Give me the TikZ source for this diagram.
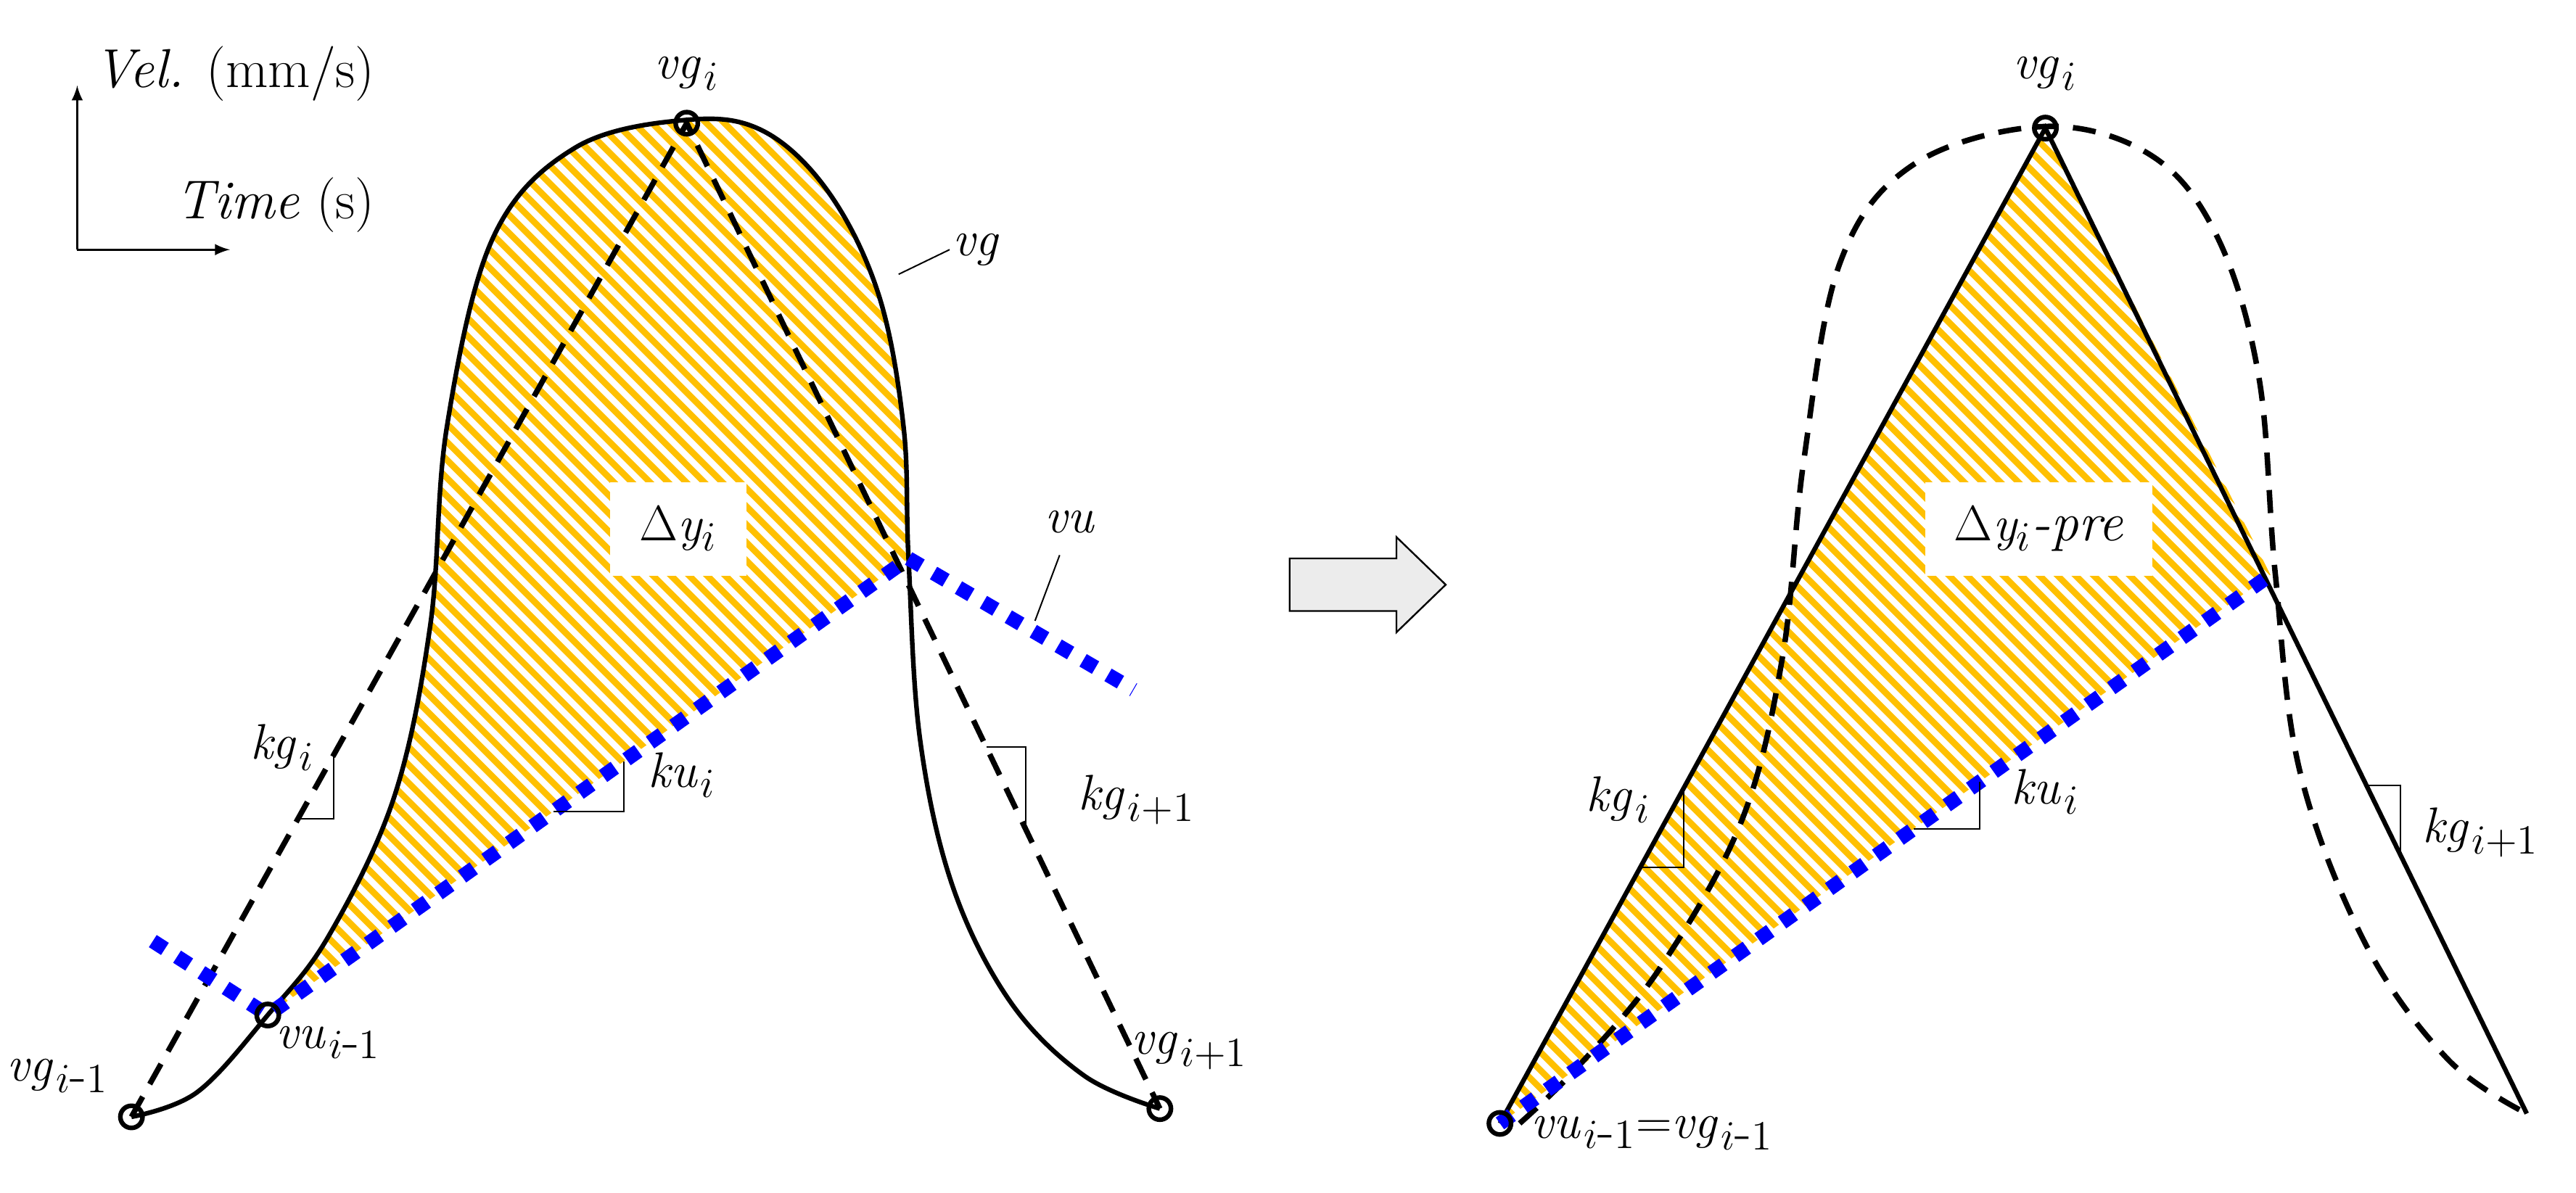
\documentclass[tikz,border=0pt]{standalone}
\usetikzlibrary{calc}
\definecolor{hatch}{HTML}{FFC000}
\newcommand{\mi}[2]{$\mathit{#1}_{#2}$}
\newcommand{\hy}{\mbox{-}}
\begin{document}
\begin{tikzpicture}[x=0.02cm,y=-0.02cm,
  curve/.style={line width=1.6pt,black},
  dsh/.style={line width=1.9pt,dash pattern=on 8pt off 5pt},
  blu/.style={line width=5pt,blue,dash pattern=on 5pt off 5pt},
  mk/.style={line width=0.5pt},
  pt/.style={circle,draw,line width=1.6pt,minimum size=0.27cm,inner sep=0pt},
  lbl/.style={font=\fontsize{19}{20}\selectfont,inner sep=1pt},
  txt/.style={font=\fontsize{19}{20}\selectfont,inner sep=1pt}]
\useasboundingbox (0,0) rectangle (1568,726);
% ---------- left ----------
\coordinate (A0) at (80,680);
\coordinate (vu) at (163,618);
\coordinate (T) at (418,75);
\coordinate (G1) at (706,675);
\coordinate (X) at (553,340);
\begin{scope}
\clip plot[smooth,tension=0.6] coordinates {(163,618) (200,570) (240,485) (262,380) (272,260) (300,145) (350,90) (418,73) (465,80) (505,118) (535,180) (550,260) (553,340)} -- cycle;
\foreach \k in {-800,-789,...,700} \draw[hatch,line width=2.2pt] (\k,0) -- ++(800,800);
\end{scope}
\draw[curve] plot[smooth,tension=0.6] coordinates {(80,680) (120,665) (163,618) (200,570) (240,485) (262,380) (272,260) (300,145) (350,90) (418,73) (465,80) (505,118) (535,180) (550,260) (553,340) (560,450) (580,540) (615,610) (660,655) (706,675)};
\draw[dsh] (A0) -- (T) -- (G1);
\draw[blu] (93,573) -- (vu) -- (X) -- (690,420);
\coordinate (p1) at ($(A0)!0.30!(T)$);  \coordinate (p1b) at ($(A0)!0.364!(T)$);
\coordinate (p2) at ($(vu)!0.446!(X)$); \coordinate (p2b) at ($(vu)!0.556!(X)$);
\coordinate (p3) at ($(T)!0.633!(G1)$); \coordinate (p3b) at ($(T)!0.717!(G1)$);
\draw[mk] (p1) -- (p1 -| p1b) -- (p1b);
\draw[mk] (p2) -- (p2 -| p2b) -- (p2b);
\draw[mk] (p3) -- (p3 -| p3b) -- (p3b);
\node[pt] (cA0) at (A0) {};
\node[pt] (cvu) at (vu) {};
\node[pt] (cT) at (T) {};
\node[pt] (cG1) at (G1) {};
% axes
\coordinate (O) at (47,152);
\draw[line width=0.8pt,-latex] (O) -- (47,52);
\draw[line width=0.8pt,-latex] (O) -- (140,152);
\node[txt,anchor=west] (vel) at (55,45) {\textit{Vel.} (mm/s)};
\node[txt,anchor=west] (time) at (105,125) {\textit{Time} (s)};
\node[lbl] (lvgi) at (418,45) {\mi{vg}{i}};
\node[lbl,anchor=west] (lvg) at (578,152) {$\mathit{vg}$};
\draw[mk] (547,167) -- (lvg.west);
\node[lbl] (lvu) at (652,318) {$\mathit{vu}$};
\draw[mk] (630,378) -- (645,338);
\node[fill=white,minimum width=1.66cm,minimum height=1.14cm,txt] (dy) at (413,322) {$\Delta\mathit{y}_{i}$};
\node[lbl] (lkg) at (172,455) {\mi{kg}{i}};
\node[lbl] (lku) at (415,472) {\mi{ku}{i}};
\node[lbl] (lkg1) at (692,487) {\mi{kg}{i+1}};
\node[lbl] (lvgm) at (35,655) {\mi{vg}{i\hy1}};
\node[lbl] (lvum) at (200,635) {\mi{vu}{i\hy1}};
\node[lbl] (lvgp) at (724,640) {\mi{vg}{i+1}};
% arrow
\draw[line width=0.6pt,fill=gray!15] (785,340) -- (850,340) -- (850,327) -- (880,356) -- (850,385) -- (850,372) -- (785,372) -- cycle;
% ---------- right ----------
\coordinate (B0) at (913,684);
\coordinate (T2) at (1245,78);
\coordinate (E2) at (1538,678);
\coordinate (X2) at (1382,350);
\begin{scope}
\clip (B0) -- (T2) -- (X2) -- cycle;
\foreach \k in {0,11,...,1600} \draw[hatch,line width=2.2pt] (\k,0) -- ++(800,800);
\end{scope}
\draw[dsh] plot[smooth,tension=0.6] coordinates {(925,684) (960,650) (1010,590) (1060,500) (1085,400) (1098,280) (1120,160) (1165,100) (1245,77) (1310,95) (1350,145) (1375,230) (1385,350) (1400,470) (1440,575) (1490,645) (1538,678)};
\draw[curve] (B0) -- (T2) -- (E2);
\draw[blu] (B0) -- (X2);
\coordinate (q1) at ($(B0)!0.257!(T2)$); \coordinate (q1b) at ($(B0)!0.337!(T2)$);
\coordinate (q2) at ($(B0)!0.537!(X2)$); \coordinate (q2b) at ($(B0)!0.623!(X2)$);
\coordinate (q3) at ($(T2)!0.667!(E2)$); \coordinate (q3b) at ($(T2)!0.737!(E2)$);
\draw[mk] (q1) -- (q1 -| q1b) -- (q1b);
\draw[mk] (q2) -- (q2 -| q2b) -- (q2b);
\draw[mk] (q3) -- (q3 -| q3b) -- (q3b);
\node[pt] (cB0) at (B0) {};
\node[pt] (cT2) at (T2) {};
\node[lbl] (rvgi) at (1245,45) {\mi{vg}{i}};
\node[fill=white,minimum width=2.76cm,minimum height=1.14cm,txt] (dy2) at (1241,322) {$\Delta\mathit{y}_{i}$\textit{-pre}};
\node[lbl] (rkg) at (985,487) {\mi{kg}{i}};
\node[lbl] (rku) at (1245,482) {\mi{ku}{i}};
\node[lbl] (rkg1) at (1510,507) {\mi{kg}{i+1}};
\node[lbl,anchor=west] (req) at (930,690) {\mi{vu}{i\hy1}$=$\mi{vg}{i\hy1}};
\end{tikzpicture}
\end{document}
